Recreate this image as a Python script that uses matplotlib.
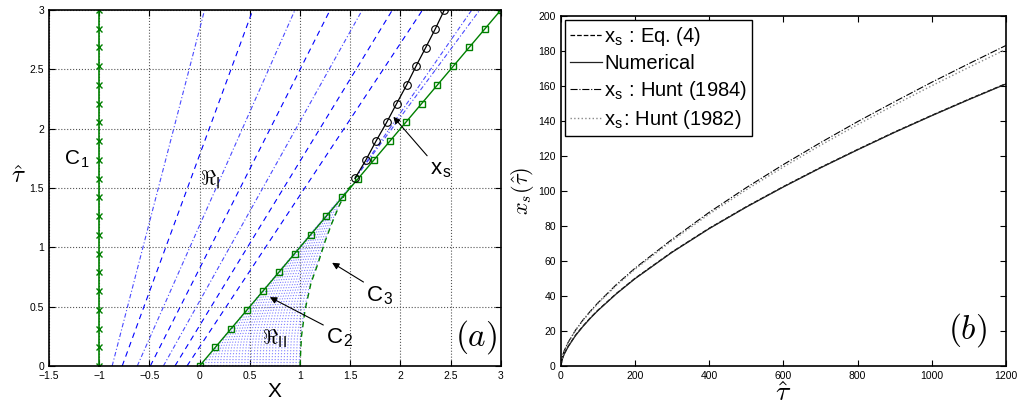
import numpy as np
import matplotlib
matplotlib.use('Agg')
import matplotlib.pyplot as plt

plt.rcParams['font.family'] = ['Liberation Sans', 'DejaVu Sans']
plt.rcParams['mathtext.fontset'] = 'cm'

GREEN = '#008000'
BLUE = '#0000ff'
LBLUE = '#7f7fff'

# ---- panel (a) data ----
tau_nodes = np.linspace(0, 3, 20)          # marker nodes on C1 / C2
c1_x = -1.0

c3_tau = [0.0, 0.25, 0.47, 0.7, 0.865, 1.05, 1.2, 1.35, 1.48, 1.57]
c3_x   = [1.0, 1.015, 1.05, 1.11, 1.18, 1.25, 1.316, 1.39, 1.465, 1.57]

xs_tau = [1.581, 1.737, 1.895, 2.053, 2.211, 2.368, 2.526, 2.684, 2.842, 3.0]
xs_x   = [1.548, 1.657, 1.757, 1.863, 1.962, 2.062, 2.155, 2.252, 2.348, 2.437]

# characteristics in region I: foot on tau=0, position at tau=3
r1_x0  = [-0.87, -0.77, -0.62, -0.49, -0.36, -0.245, -0.125]
r1_x3  = [0.05, 0.53, 0.95, 1.30, 1.62, 1.92, 2.22]
r1_sty = ['-.', '--', '-.', '--', '-.', '--', '--']
# characteristics right of the shock (start at shock origin)
r1b_x3 = [2.71, 2.79]

# region II fan (scaled copies of C3)
r2_scale = np.arange(0.03, 1.0, 0.03)

# ---- panel (b) data ----
tau_b   = [0, 5, 10, 20, 40, 60, 80, 100, 150, 200, 300, 400, 500, 600,
           700, 800, 900, 1000, 1100, 1200]
numer   = [0, 4.4, 7.0, 11.0, 17.4, 22.6, 27.3, 31.6, 41.2, 49.8, 64.9, 78.4,
           90.7, 102.2, 113.1, 123.4, 133.4, 142.9, 152.1, 161.0]
eq4     = [0, 4.6, 7.2, 11.2, 17.6, 22.8, 27.5, 31.8, 41.4, 50.0, 65.1, 78.6,
           90.9, 102.4, 113.3, 123.6, 133.6, 143.1, 152.3, 161.2]
hunt84  = [0, 6.0, 9.0, 13.5, 20.5, 26.3, 31.3, 36.0, 46.5, 55.8, 72.3, 87.7,
           101.8, 115.0, 127.5, 139.5, 150.9, 162.0, 172.6, 183.0]
hunt82  = [0, 6.0, 8.9, 13.4, 20.3, 26.0, 30.9, 35.6, 46.0, 55.2, 71.5, 86.7,
           100.6, 113.6, 126.0, 137.8, 149.1, 160.0, 170.5, 180.8]

fig = plt.figure(figsize=(10.18, 4.05), dpi=100)
fig.patch.set_facecolor('white')
axa = fig.add_axes([0.048, 0.0963, 0.444, 0.879])
axb = fig.add_axes([0.5508, 0.0963, 0.4374, 0.865])

for ax in (axa, axb):
    ax.tick_params(direction='in', top=True, right=True, labelsize=7.5,
                   length=4, width=0.8)
    for s in ax.spines.values():
        s.set_linewidth(1.2)

# ---- (a) ----
axa.set_xlim(-1.5, 3)
axa.set_ylim(0, 3)
axa.set_xticks(np.arange(-1.5, 3.01, 0.5))
axa.set_yticks(np.arange(0, 3.01, 0.5))
axa.set_xticklabels(['\u22121.5', '\u22121', '\u22120.5', '0', '0.5', '1',
                     '1.5', '2', '2.5', '3'])
axa.set_yticklabels(['0', '0.5', '1', '1.5', '2', '2.5', '3'])
axa.grid(True, linestyle=':', color='#555555', linewidth=0.8)
axa.set_axisbelow(True)

c3x = np.array(c3_x)
c3t = np.array(c3_tau)
for k in r2_scale:
    axa.plot(k * c3x, k * c3t, ':', color=LBLUE, lw=0.8)

for x0, x3, st in zip(r1_x0, r1_x3, r1_sty):
    if st == '--':
        axa.plot([x0, x3], [0, 3], color=BLUE, lw=0.8, dashes=(5, 4))
    else:
        axa.plot([x0, x3], [0, 3], color='#4a4aff', lw=0.8,
                 dashes=(4, 2, 1, 2))
for x3 in r1b_x3:
    axa.plot([xs_x[0], x3], [xs_tau[0], 3], color='#4a4aff', lw=0.8,
             dashes=(4, 2, 1, 2))

axa.plot(np.full(len(tau_nodes), c1_x), tau_nodes, '-x', color=GREEN,
         lw=1.2, ms=4, mew=1.0)
axa.plot(tau_nodes, tau_nodes, '-s', color=GREEN, lw=1.0, ms=4.5,
         mfc='none', mew=1.0)
axa.plot(c3x, c3t, '--', color=GREEN, lw=1.0, dashes=(4, 3))
axa.plot(xs_x, xs_tau, '-o', color='k', lw=0.9, ms=5.5, mfc='none', mew=0.8)

axa.text(-1.35, 1.7, 'C$_{\\mathregular{1}}$', fontsize=15, ha='left',
         va='baseline')
axa.text(0.0, 1.52, '$\\Re_{\\mathsf{I}}$', fontsize=15, ha='left',
         va='baseline')
axa.text(0.62, 0.18, '$\\Re_{\\mathsf{II}}$', fontsize=15, ha='left',
         va='baseline')
arr = dict(arrowstyle='-|>', color='k', lw=0.8, shrinkA=0, shrinkB=0,
           mutation_scale=10, relpos=(0.0, 1.0))
axa.annotate('x$_{\\mathregular{s}}$', xy=(1.93, 2.10), xytext=(2.29, 1.62),
             fontsize=16, ha='left', va='baseline', arrowprops=arr)
axa.annotate('C$_{\\mathregular{3}}$', xy=(1.32, 0.87), xytext=(1.66, 0.55),
             fontsize=16, ha='left', va='baseline', arrowprops=arr)
axa.annotate('C$_{\\mathregular{2}}$', xy=(0.70, 0.58), xytext=(1.26, 0.19),
             fontsize=16, ha='left', va='baseline', arrowprops=arr)
axa.text(2.96, 0.24, '$(a)$', fontsize=24, ha='right', va='center')
axa.set_xlabel('X', fontsize=15, labelpad=1)
axa.set_ylabel('$\\hat{\\tau}$', fontsize=18, rotation=0, labelpad=8)

# ---- (b) ----
axb.set_xlim(0, 1200)
axb.set_ylim(0, 200)
axb.set_xticks(np.arange(0, 1201, 200))
axb.set_yticks(np.arange(0, 201, 20))
axb.plot(tau_b, eq4, '--', color='k', lw=0.9,
         label='x$_{\\mathregular{s}}$ : Eq. (4)')
axb.plot(tau_b, numer, '-', color='#222222', lw=0.9, label='Numerical')
axb.plot(tau_b, hunt84, '-.', color='k', lw=0.8,
         label='x$_{\\mathregular{s}}$ : Hunt (1984)')
axb.plot(tau_b, hunt82, ':', color='#888888', lw=1.0,
         label='x$_{\\mathregular{s}}$: Hunt (1982)')
leg = axb.legend(loc='upper left', fontsize=14.5, handlelength=1.6,
                 handletextpad=0.1, labelspacing=0.3, borderpad=0.25,
                 borderaxespad=0.2, fancybox=False, framealpha=1)
leg.get_frame().set_edgecolor('k')
leg.get_frame().set_linewidth(1.0)
axb.text(1150, 20.5, '$(b)$', fontsize=24, ha='right', va='center')
axb.set_xlabel('$\\hat{\\tau}$', fontsize=20, labelpad=0)
axb.set_ylabel('$x_s(\\hat{\\tau})$', fontsize=16, labelpad=2)

fig.savefig('out.png', dpi=100)
